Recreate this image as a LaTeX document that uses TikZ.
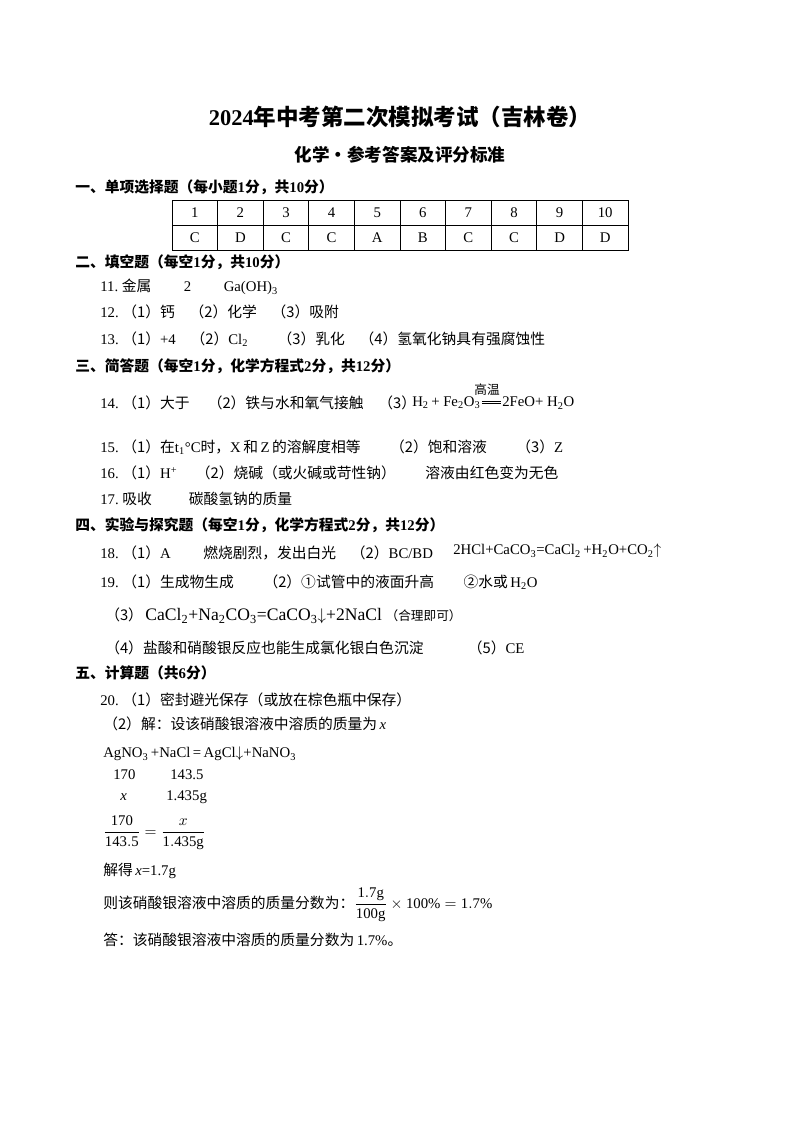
\documentclass[tikz,border=0pt]{standalone}
\usepackage{amsmath}
\usepackage{fontspec}
\usetikzlibrary{calc}
\setmainfont{Liberation Serif}
\newfontfamily\cjk{Noto Sans CJK SC}
\newcommand\zh[1]{{\cjk #1}}
\newcommand\sbs[1]{\textsubscript{#1}}
\tikzset{
  line/.style={anchor=west, inner sep=0pt, font=\fontsize{10.5}{12}\selectfont},
  head/.style={anchor=west, inner sep=0pt, font=\fontsize{10.5}{12}\selectfont\bfseries},
  cell/.style={inner sep=0pt, font=\fontsize{10.5}{12}\selectfont}
}
\begin{document}
\begin{tikzpicture}[x=0.025cm, y=-0.025cm]
  \useasboundingbox (0,0) rectangle (800,1132);
  % titles
  \node[inner sep=0pt, font=\fontsize{16}{18}\selectfont\bfseries] (title) at (400,117) {2024\zh{年中考第二次模拟考试（吉林卷）}};
  \node[inner sep=0pt, font=\fontsize{12.5}{14}\selectfont\bfseries] (subtitle) at (400,155) {\zh{化学·参考答案及评分标准}};
  % part one
  \node[head] (s1) at (75,187) {\zh{一、单项选择题（每小题}1\zh{分，共}10\zh{分）}};
  \draw[line width=0.6pt] (172,200) rectangle (628,250);
  \draw[line width=0.6pt] (172,225) -- (628,225);
  \foreach \i in {1,...,9}
    \draw[line width=0.6pt] (172+\i*45.6,200) -- (172+\i*45.6,250);
  \foreach \k/\ans [count=\i] in {1/C,2/D,3/C,4/C,5/A,6/B,7/C,8/C,9/D,10/D} {
    \node[cell] (num\i) at (149.2+\i*45.6,212.5) {\k};
    \node[cell] (ans\i) at (149.2+\i*45.6,237.5) {\ans};
  }
  % part two
  \node[head] (s2) at (75,262) {\zh{二、填空题（每空}1\zh{分，共}10\zh{分）}};
  \node[line] (q11) at (100,287) {11.\ \zh{金属}\hspace{2.2em}2\hspace{2.2em}Ga(OH)\sbs{3}};
  \node[line] (q12) at (100,312) {12.\ \zh{（1）钙\quad（2）化学\quad（3）吸附}};
  \node[line] (q13) at (100,339) {13.\ \zh{（1）}+4\quad\zh{（2）}Cl\sbs{2}\qquad\zh{（3）乳化\quad（4）氢氧化钠具有强腐蚀性}};
  % part three
  \node[head] (s3) at (75,366) {\zh{三、简答题（每空}1\zh{分，化学方程式}2\zh{分，共}12\zh{分）}};
  \node[line] (q14) at (100,403) {14.\ \zh{（1）大于\quad\ （2）铁与水和氧气接触\quad（3）}};
  \node[line] (eq14a) at (412,403) {H\sbs{2}\,+ Fe\sbs{2}O\sbs{3}};
  \node[line] (eq14b) at (502,403) {2FeO+ H\sbs{2}O};
  \draw[line width=0.5pt] ($(eq14a.east)+(1,-2)$) -- ($(eq14b.west)+(-1,-2)$);
  \draw[line width=0.5pt] ($(eq14a.east)+(1,0.5)$) -- ($(eq14b.west)+(-1,0.5)$);
  \node[inner sep=0pt, font=\fontsize{9}{10}\selectfont] (cond14) at (487,390) {\zh{高温}};
  \node[line] (q15) at (100,447) {15.\ \zh{（1）在}t\sbs{1}\textdegree C\zh{时，}X\,\zh{和}\,Z\,\zh{的溶解度相等\qquad（2）饱和溶液\qquad（3）}Z};
  \node[line] (q16) at (100,473) {16.\ \zh{（1）}H\textsuperscript{+}\quad\ \zh{（2）烧碱（或火碱或苛性钠）\qquad 溶液由红色变为无色}};
  \node[line] (q17) at (100,499) {17.\ \zh{吸收}\hspace{2.5em}\zh{碳酸氢钠的质量}};
  % part four
  \node[head] (s4) at (75,525) {\zh{四、实验与探究题（每空}1\zh{分，化学方程式}2\zh{分，共}12\zh{分）}};
  \node[line] (q18) at (100,553) {18.\ \zh{（1）}A\hspace{2.2em}\zh{燃烧剧烈，发出白光}\quad\zh{（2）}BC/BD};
  \node[line] (eq18) at (453,551) {2HCl+CaCO\sbs{3}=CaCl\sbs{2}\,+H\sbs{2}O+CO\sbs{2}$\uparrow$};
  \node[line] (q19) at (100,582) {19.\ \zh{（1）生成物生成\qquad（2）①试管中的液面升高\qquad ②水或}\,H\sbs{2}O};
  \node[line] (q19c) at (105,616) {\zh{（3）}\,{\fontsize{12.5}{14}\selectfont CaCl\sbs{2}+Na\sbs{2}CO\sbs{3}=CaCO\sbs{3}$\downarrow$+2NaCl}\ {\fontsize{9}{10}\selectfont\zh{（合理即可）}}};
  \node[line] (q19d) at (105,648) {\zh{（4）盐酸和硝酸银反应也能生成氯化银白色沉淀}\hspace{3em}\zh{（5）}CE};
  % part five
  \node[head] (s5) at (75,673) {\zh{五、计算题（共}6\zh{分）}};
  \node[line] (q20) at (100,700) {20.\ \zh{（1）密封避光保存（或放在棕色瓶中保存）}};
  \node[line] (q20b) at (103,724) {\zh{（2）解：设该硝酸银溶液中溶质的质量为}\,\textit{x}};
  \node[line] (eq20) at (103,754) {AgNO\sbs{3}\,+NaCl\,=\,AgCl$\downarrow$+NaNO\sbs{3}};
  \node[line] (m1) at (113,775) {170};
  \node[line] (m2) at (170,775) {143.5};
  \node[line] (x1) at (120,797) {\textit{x}};
  \node[line] (x2) at (166,797) {1.435g};
  \node[line] (frac20) at (103,833) {$\dfrac{\mathrm{170}}{\mathrm{143.5}}=\dfrac{x}{\mathrm{1.435g}}$};
  \node[line] (sol20) at (103,871) {\zh{解得}\,\textit{x}=1.7g};
  \node[line] (pct20) at (103,905) {\zh{则该硝酸银溶液中溶质的质量分数为：}$\dfrac{\mathrm{1.7g}}{\mathrm{100g}}\times\mathrm{100\%}=\mathrm{1.7\%}$};
  \node[line] (res20) at (103,940) {\zh{答：该硝酸银溶液中溶质的质量分数为}\,1.7\%\zh{。}};
\end{tikzpicture}
\end{document}
